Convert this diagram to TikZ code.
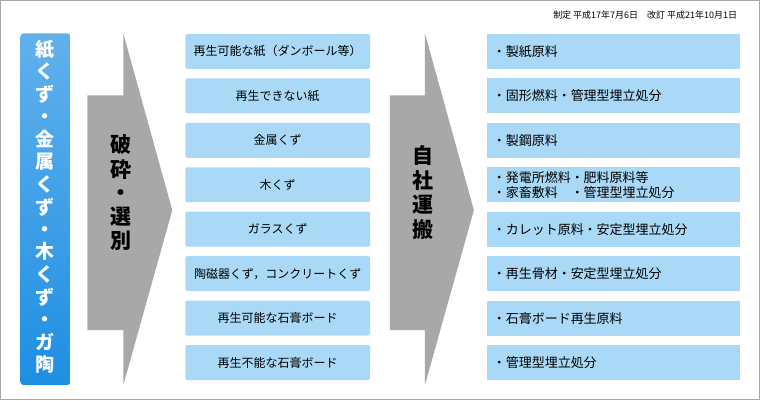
\documentclass[tikz,border=0pt]{standalone}
\usepackage{fontspec}
\setmainfont{Noto Sans CJK JP}
\usetikzlibrary{positioning}
\definecolor{boxblue}{HTML}{A9D9F6}
\definecolor{leftblue}{HTML}{1E8FE3}
\definecolor{arrowgray}{HTML}{A8A8A8}
\newcommand\vtext[1]{\begin{tabular}{@{}c@{}}#1\end{tabular}}
\tikzset{
  item/.style={fill=boxblue, rounded corners=2pt, minimum width=185pt, minimum height=35pt, font=\fontsize{12}{14}\selectfont},
  result/.style={fill=boxblue, minimum width=253pt, minimum height=35pt, text width=241pt, align=left, font=\fontsize{13}{15}\selectfont},
  flow/.style={fill=arrowgray}
}
\begin{document}
\begin{tikzpicture}[x=1pt,y=-1pt]
  \draw[fill=white, draw=gray!70, line width=1pt] (0,0) rectangle (760,400);
  % left column
  \shade[top color=leftblue!70, bottom color=leftblue, rounded corners=3pt] (20,33) rectangle (70,385);
  \node[text=white, font=\bfseries\fontsize{19}{22}\selectfont, inner sep=0] (src) at (45,209)
    {\vtext{紙\\く\\ず\\・\\金\\属\\く\\ず\\・\\木\\く\\ず\\・\\ガ\\陶}};
  % arrows
  \fill[flow] (87,95) -- (123,95) -- (123,33) -- (172,210) -- (123,385) -- (123,330) -- (87,330) -- cycle;
  \fill[flow] (390,95) -- (425,95) -- (425,33) -- (474,210) -- (425,385) -- (425,330) -- (390,330) -- cycle;
  \node[font=\bfseries\fontsize{21}{23}\selectfont, inner sep=0] (sort) at (121,195) {\vtext{破\\砕\\・\\選\\別}};
  \node[font=\bfseries\fontsize{21}{23}\selectfont, inner sep=0] (haul) at (423,195) {\vtext{自\\社\\運\\搬}};
  % rows
  \foreach \i/\a/\b in {
    0/{再生可能な紙（ダンボール等）}/{・製紙原料},
    1/{再生できない紙}/{・固形燃料・管理型埋立処分},
    2/{金属くず}/{・製鋼原料},
    3/{木くず}/{・発電所燃料・肥料原料等\\・家畜敷料\quad ・管理型埋立処分},
    4/{ガラスくず}/{・カレット原料・安定型埋立処分},
    5/{陶磁器くず，コンクリートくず}/{・再生骨材・安定型埋立処分},
    6/{再生可能な石膏ボード}/{・石膏ボード再生原料},
    7/{再生不能な石膏ボード}/{・管理型埋立処分}} {
    \node[item] (mat\i) at (277.5,{51+44.5*\i}) {\a};
    \node[result] (use\i) at (613.5,{51+44.5*\i}) {\b};
  }
  \node[anchor=east, font=\fontsize{9}{10}\selectfont] (date) at (741,15) {制定 平成17年7月6日\quad 改訂 平成21年10月1日};
\end{tikzpicture}
\end{document}
